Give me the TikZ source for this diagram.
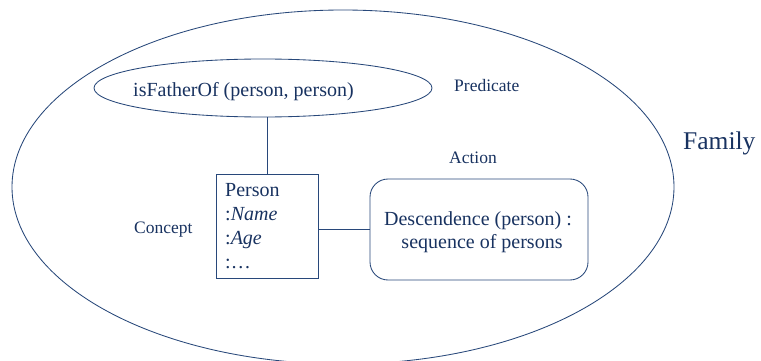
\documentclass[tikz,border=0pt]{standalone}
\usepackage{fontspec}
\setmainfont{Liberation Serif}
\usetikzlibrary{shapes.geometric}
\definecolor{inkline}{RGB}{40,72,122}
\definecolor{inktext}{RGB}{24,50,96}
\begin{document}
\begin{tikzpicture}[x=1pt,y=-1pt,
  outline/.style={draw=inkline,line width=0.85pt,inner sep=0pt},
  txt/.style={text=inktext,inner sep=0pt,font=\fontsize{20}{24}\selectfont},
  tag/.style={text=inktext,inner sep=0pt,font=\fontsize{17.5}{21}\selectfont},
  link/.style={draw=inkline,line width=0.85pt}]
\useasboundingbox (0,0) rectangle (761,361);
\clip (0,0) rectangle (761,361);
% outer domain
\node[outline,ellipse,minimum width=662pt,minimum height=354pt] (family) at (343,187) {};
\node[anchor=base west,text=inktext,inner sep=0pt,font=\fontsize{25.5}{30}\selectfont] (familylbl) at (683,149.3) {Family};
% predicate
\node[outline,ellipse,minimum width=338pt,minimum height=58pt] (pred) at (263,88) {};
\node[txt,anchor=base west] (predtxt) at (133,97) {isFatherOf (person, person)};
\node[tag,anchor=base west] (predlbl) at (454,92) {Predicate};
% concept
\node[outline,rectangle,minimum width=102pt,minimum height=104pt] (person) at (267,226) {};
\node[txt,anchor=base west] (p1) at (225,196) {Person};
\node[txt,anchor=base west] (p2) at (225,220) {:\textit{Name}};
\node[txt,anchor=base west] (p3) at (225,244) {:\textit{Age}};
\node[txt,anchor=base west] (p4) at (225,268) {:…};
\node[tag,anchor=base west] (conceptlbl) at (134,233) {Concept};
% action
\node[outline,rectangle,rounded corners=18pt,minimum width=218pt,minimum height=101pt] (action) at (479,229.5) {};
\node[txt,anchor=base] (a1) at (478,225) {Descendence (person) :};
\node[txt,anchor=base] (a2) at (482,248) {sequence of persons};
\node[tag,anchor=base west] (actionlbl) at (449,163) {Action};
% connectors
\draw[link] (person.north) -- (person.north |- pred.south);
\draw[link] (person.east |- action.west) -- (action.west);
\end{tikzpicture}
\end{document}
